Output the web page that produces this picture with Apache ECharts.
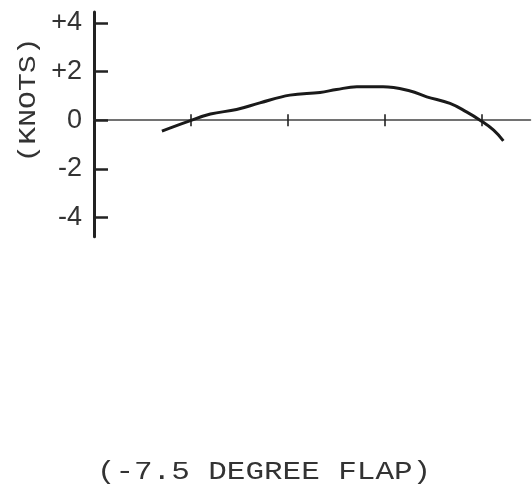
<!DOCTYPE html>
<html>
<head>
<meta charset="utf-8">
<script src="https://cdn.jsdelivr.net/npm/echarts@6/dist/echarts.min.js"></script>
<style>
  html, body { margin: 0; padding: 0; background: #fff; }
  #chart { width: 532px; height: 489px; }
</style>
</head>
<body>
<div id="chart"></div>
<script>
// 曲线数据
const xValues = [0.70, 0.98, 1.20, 1.47, 1.71, 2.02, 2.33, 2.50, 2.71, 2.98, 3.26, 3.43, 3.67, 3.84, 3.98, 4.12, 4.22];
const speedKnots = [-0.45, -0.04, 0.25, 0.44, 0.71, 1.03, 1.14, 1.26, 1.37, 1.37, 1.20, 0.96, 0.69, 0.34, 0.0, -0.41, -0.85];
const yTicks = [-4, -2, 0, 2, 4];
const xTicks = [1, 2, 3, 4];
const yName = '(KNOTS)';
const caption = '(-7.5 DEGREE FLAP)';

const chart = echarts.init(document.getElementById('chart'));

chart.setOption({
    animation: false,
    grid: { left: 94, top: 12, width: 436.5, height: 224.8 },
    xAxis: {
        type: 'value',
        min: 0,
        max: 4.5,
        axisLine: { onZero: true, lineStyle: { color: '#444', width: 1.5 } },
        axisTick: { show: false },
        axisLabel: { show: false },
        splitLine: { show: false }
    },
    yAxis: {
        type: 'value',
        min: -4.8,
        max: 4.45,
        axisLine: { show: true, onZero: false, lineStyle: { color: '#222', width: 3 } },
        axisTick: { show: true, inside: true, length: 14, customValues: yTicks, lineStyle: { color: '#222', width: 2.5 } },
        axisLabel: {
            customValues: yTicks,
            margin: 12,
            fontFamily: 'Liberation Sans',
            fontSize: 27,
            color: '#333',
            formatter: v => (v > 0 ? '+' + v : String(v))
        },
        splitLine: { show: false }
    },
    series: [
        {
            // 横轴上穿过轴线的刻度
            type: 'scatter',
            data: xTicks.map(x => [x, 0]),
            symbol: 'rect',
            symbolSize: [2, 12],
            itemStyle: { color: '#222' },
            silent: true
        },
        {
            type: 'line',
            data: xValues.map((x, i) => [x, speedKnots[i]]),
            showSymbol: false,
            smooth: 0.4,
            lineStyle: { color: '#1a1a1a', width: 3 },
            z: 3
        }
    ],
    graphic: [
        {
            type: 'text',
            x: 29, y: 100,
            rotation: Math.PI / 2,
            scaleX: 1.24,
            style: {
                text: yName,
                fontFamily: 'Liberation Mono',
                fontSize: 24,
                fill: '#333',
                align: 'center',
                verticalAlign: 'middle'
            }
        },
        {
            type: 'text',
            x: 264, y: 472,
            scaleX: 1.19,
            style: {
                text: caption,
                fontFamily: 'Liberation Mono',
                fontSize: 26,
                fill: '#333',
                align: 'center',
                verticalAlign: 'middle'
            }
        }
    ]
});
</script>
</body>
</html>
